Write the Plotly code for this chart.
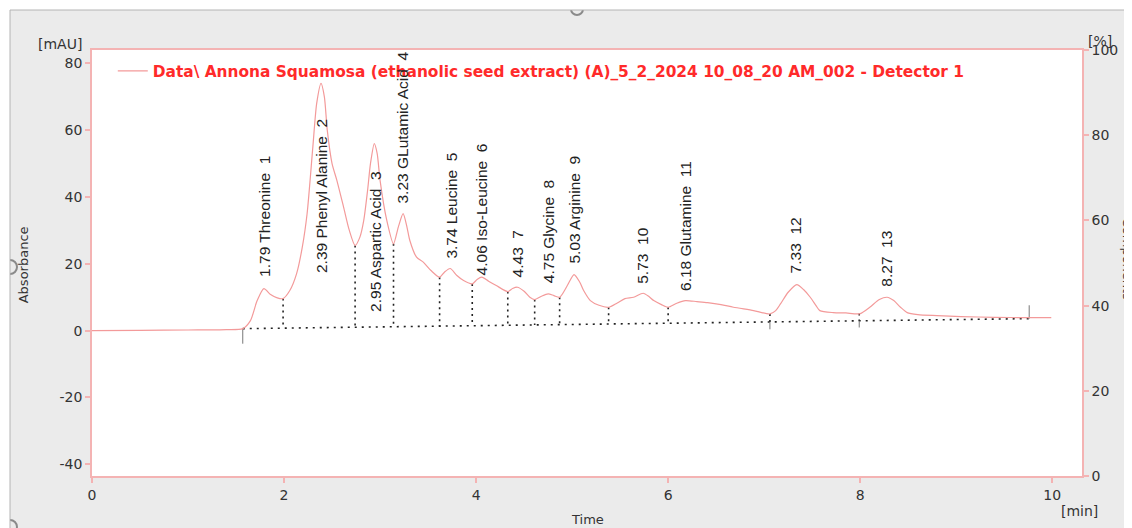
import numpy as np
import plotly.graph_objects as go

# ---------------- data ----------------
time_min = [0.00, 0.50, 1.00, 1.40, 1.57, 1.65, 1.72, 1.79, 1.86, 1.93, 1.99, 2.06, 2.13, 2.19,
            2.24, 2.30, 2.34, 2.385, 2.42, 2.45, 2.50, 2.55, 2.62, 2.68, 2.74, 2.79, 2.83, 2.87,
            2.90, 2.94, 2.97, 3.00, 3.07, 3.14, 3.19, 3.24, 3.28, 3.31, 3.38, 3.45, 3.53, 3.62,
            3.67, 3.73, 3.80, 3.87, 3.96, 4.01, 4.06, 4.13, 4.21, 4.33, 4.38, 4.43, 4.50, 4.56,
            4.61, 4.68, 4.75, 4.81, 4.87, 4.95, 5.02, 5.08, 5.12, 5.19, 5.28, 5.38, 5.47, 5.55,
            5.64, 5.74, 5.80, 5.85, 5.93, 6.00, 6.09, 6.18, 6.30, 6.41, 6.55, 6.68, 6.89, 7.06,
            7.12, 7.17, 7.25, 7.34, 7.41, 7.48, 7.54, 7.58, 7.72, 7.85, 8.00, 8.10, 8.20, 8.28,
            8.35, 8.42, 8.49, 8.60, 8.80, 9.05, 9.40, 9.74, 9.99]
absorbance = [0.0, 0.1, 0.2, 0.3, 0.6, 3.0, 9.0, 12.6, 10.8, 9.8, 9.6, 12.0, 17.0, 25.0,
              35.0, 55.0, 68.0, 74.0, 70.0, 60.0, 50.0, 45.0, 37.0, 30.0, 25.5, 28.0, 33.0, 42.0,
              50.0, 56.0, 53.0, 45.0, 33.0, 26.0, 31.0, 35.0, 31.0, 27.0, 22.0, 20.5, 18.0, 16.0,
              17.5, 18.6, 16.5, 15.0, 14.0, 15.3, 16.0, 14.8, 13.5, 11.7, 12.6, 13.0, 11.8, 10.0,
              9.3, 10.3, 11.0, 10.5, 10.0, 13.5, 16.8, 14.5, 12.0, 9.0, 7.6, 7.0, 8.3, 9.6,
              10.0, 11.2, 10.2, 9.0, 7.8, 7.0, 8.2, 9.0, 8.7, 8.4, 7.8, 7.0, 6.0, 5.0,
              6.0, 8.0, 11.5, 13.8, 12.3, 10.0, 7.5, 6.0, 5.4, 5.3, 5.1, 7.0, 9.3, 10.0,
              9.0, 7.0, 5.4, 4.8, 4.5, 4.2, 4.0, 3.9, 3.9]

# peak labels
peak_time = [1.79, 2.39, 2.95, 3.23, 3.74, 4.06, 4.43, 4.75, 5.03, 5.73, 6.18, 7.33, 8.27]
peak_name = ["Threonine", "Phenyl Alanine", "Aspartic Acid", "GLutamic Acid", "Leucine",
             "Iso-Leucine", "", "Glycine", "Arginine", "", "Glutamine", "", ""]
peak_no = [1, 2, 3, 4, 5, 6, 7, 8, 9, 10, 11, 12, 13]
label_base = [15.6, 16.5, 5.1, 37.5, 21.0, 15.9, 15.3, 13.5, 19.5, 13.5, 11.4, 16.5, 12.6]

# integration baseline and peak boundaries (drop lines)
baseline_t = [1.57, 9.76]
baseline_v = [0.6, 3.6]
drop_t = [1.99, 2.74, 3.14, 3.62, 3.96, 4.33, 4.61, 4.87, 5.38, 6.00, 7.06, 7.99]
drop_top = [9.6, 25.5, 26.0, 16.0, 14.0, 11.7, 9.3, 10.0, 7.0, 7.0, 5.0, 5.1]

# axis ticks
x_ticks = [0, 2, 4, 6, 8, 10]
y_ticks = [-40, -20, 0, 20, 40, 60, 80]
y_ticklabels = ["-40", "-20", "0", "20", "40", "60", "80"]
y2_ticks = [0, 20, 40, 60, 80, 100]

trace_name = "Data\\ Annona Squamosa (ethanolic seed extract) (A)_5_2_2024 10_08_20 AM_002 - Detector 1"

# ---------------- styles ----------------
PINK = "#f4b3b3"
CURVE = "#f39a9a"
TXT = "#333333"
FONT = "DejaVu Sans"

fig = go.Figure()

# drop lines
dx, dy = [], []
for t, top in zip(drop_t, drop_top):
    b = float(np.interp(t, baseline_t, baseline_v))
    dx += [t, t, None]
    dy += [top, b, None]
fig.add_trace(go.Scatter(x=dx, y=dy, mode="lines", showlegend=False, hoverinfo="skip",
                         line=dict(color="#222222", width=1.6, dash="2px,4px")))

# baseline
fig.add_trace(go.Scatter(x=baseline_t, y=baseline_v, mode="lines", showlegend=False,
                         hoverinfo="skip",
                         line=dict(color="#222222", width=1.6, dash="2px,5px")))

# baseline start / end ticks and boundary ticks
tick_x, tick_y = [], []
for t, d in zip([baseline_t[0], 7.06, 7.99, baseline_t[1]], [-4.5, -2.2, -2.0, 4.0]):
    b = float(np.interp(t, baseline_t, baseline_v))
    tick_x += [t, t, None]
    tick_y += [b, b + d, None]
fig.add_trace(go.Scatter(x=tick_x, y=tick_y, mode="lines", showlegend=False, hoverinfo="skip",
                         line=dict(color="#777777", width=1)))

# chromatogram
fig.add_trace(go.Scatter(x=time_min, y=absorbance, mode="lines", name=trace_name,
                         line=dict(color=CURVE, width=1.2, shape="spline", smoothing=0.7)))

# dummy trace for the right (%) axis
fig.add_trace(go.Scatter(x=[0], y=[0], yaxis="y2", mode="markers", showlegend=False,
                         hoverinfo="skip", marker=dict(opacity=0)))

# peak labels
for t, name, n, yb in zip(peak_time, peak_name, peak_no, label_base):
    txt = f"{t:.2f} {name}\u00a0\u00a0{n}" if name else f"{t:.2f}\u00a0\u00a0{n}"
    fig.add_annotation(x=t, y=yb, text=txt, textangle=-90, showarrow=False,
                       xanchor="center", yanchor="bottom",
                       font=dict(family="Liberation Sans", size=15.5, color="#222222"))

# axis titles / units (paper coords measured on the page)
def pa(text, x, y, angle=0, size=14):
    fig.add_annotation(text=text, x=x, y=y, xref="paper", yref="paper", showarrow=False,
                       xanchor="center", yanchor="middle",
                       textangle=angle, font=dict(family=FONT, size=size, color=TXT))

pa("[mAU]", -0.0323, 1.014)
pa("Absorbance", -0.0697, 0.497, angle=-90, size=13)
pa("[%]", 1.018, 1.021)
pa("Components", 1.0455, 0.51, angle=90, size=13)
pa("Time", 0.5, -0.103, size=13)
pa("[min]", 0.997, -0.083)

# window frame decoration (page pixels -> paper)
def px2x(p):
    return (p - 92) / 990

def px2y(p):
    return (476 - p) / 426

shapes = [
    dict(type="circle", xref="paper", yref="paper", x0=px2x(571), x1=px2x(583), y0=px2y(3),
         y1=px2y(15), line=dict(color="#8a8a8a", width=2), fillcolor="#ebebeb", layer="below"),
    dict(type="circle", xref="paper", yref="paper", x0=px2x(3), x1=px2x(17), y0=px2y(260),
         y1=px2y(274), line=dict(color="#8a8a8a", width=2), fillcolor="#ebebeb", layer="below"),
    dict(type="circle", xref="paper", yref="paper", x0=px2x(3), x1=px2x(17), y0=px2y(520),
         y1=px2y(534), line=dict(color="#8a8a8a", width=2), fillcolor="#ebebeb", layer="below"),
    dict(type="rect", xref="paper", yref="paper", x0=px2x(-5), x1=px2x(1140), y0=px2y(10),
         y1=px2y(-5), fillcolor="white", line_width=0, layer="below"),
    dict(type="rect", xref="paper", yref="paper", x0=px2x(-5), x1=px2x(10), y0=px2y(535),
         y1=px2y(-5), fillcolor="white", line_width=0, layer="below"),
    dict(type="line", xref="paper", yref="paper", x0=px2x(10), x1=px2x(1140), y0=px2y(10),
         y1=px2y(10), line=dict(color="#b4b4b4", width=1)),
    dict(type="line", xref="paper", yref="paper", x0=px2x(10), x1=px2x(10), y0=px2y(10),
         y1=px2y(535), line=dict(color="#b4b4b4", width=1)),
]

axis_common = dict(showgrid=False, zeroline=False, showline=True, linecolor=PINK, linewidth=1.5,
                   ticks="outside", ticklen=5, tickcolor=PINK, tickwidth=1.5,
                   tickfont=dict(family=FONT, size=14, color=TXT))

fig.update_layout(
    width=1132, height=528,
    margin=dict(l=84, r=58, t=42, b=60),
    paper_bgcolor="#ebebeb", plot_bgcolor="white",
    xaxis=dict(range=[0, 10.31], tickvals=x_ticks, mirror=True, **axis_common),
    yaxis=dict(range=[-43.5, 84], tickvals=y_ticks, ticktext=y_ticklabels, **axis_common),
    yaxis2=dict(range=[0, 100], tickvals=y2_ticks, overlaying="y",
                side="right", **axis_common),
    legend=dict(x=0.021, y=0.950, xanchor="left", yanchor="middle", bgcolor="rgba(0,0,0,0)",
                font=dict(family=FONT, size=15.4, color="#ff2a2a", weight="bold")),
    showlegend=True,
    shapes=shapes,
)

fig.write_html("out.html")
